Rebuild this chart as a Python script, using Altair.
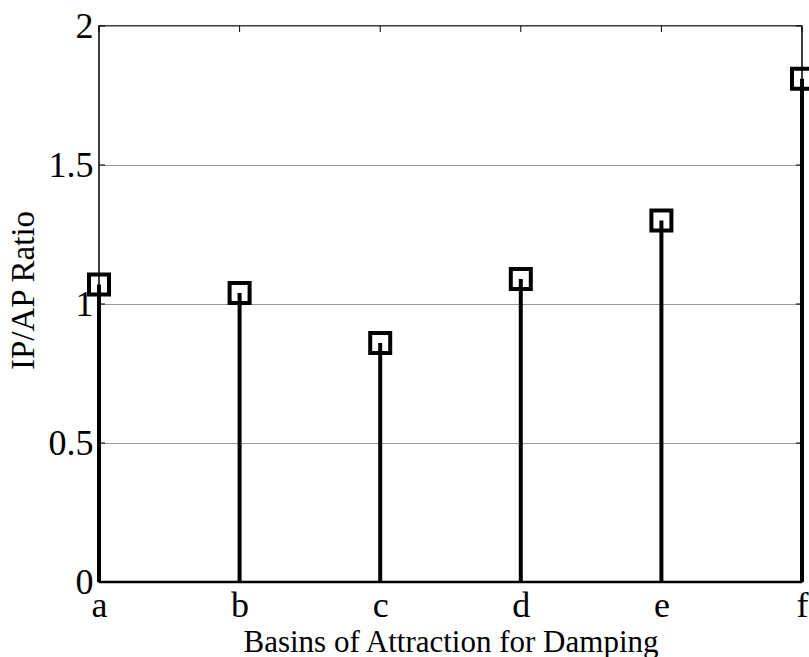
import altair as alt
import pandas as pd

cats = ["a", "b", "c", "d", "e", "f"]
ratio = [1.07, 1.04, 0.86, 1.09, 1.30, 1.81]
yticks = [0, 0.5, 1, 1.5, 2]

df = pd.DataFrame({"cat": cats, "val": ratio})
dt = pd.DataFrame({"t": yticks})

W, H = 703, 556
FONT = "Liberation Serif"

xscale = alt.Scale(type="point", padding=0, domain=cats)
yscale = alt.Scale(domain=[0, 2], nice=False, zero=True)

xaxis = alt.Axis(
    title="Basins of Attraction for Damping", labelAngle=0, ticks=False, domain=False,
    grid=False, labelFont=FONT, labelFontSize=36, labelColor="black", labelPadding=6,
    titleFont=FONT, titleFontSize=31, titleFontWeight="normal", titleColor="black",
    titleX=W / 2, titleY=69, titleBaseline="alphabetic", titleAlign="center",
)
yaxis = alt.Axis(
    title="IP/AP Ratio", values=yticks, format="~g", ticks=False, domain=False, grid=True,
    gridColor="#999999", gridWidth=1, labelFont=FONT, labelFontSize=36,
    labelColor="black", labelPadding=6, labelBaseline="middle",
    titleFont=FONT, titleFontSize=33, titleFontWeight="normal", titleColor="black",
    titleX=-76, titleY=264, titleAngle=-90, titleAlign="center", titleBaseline="middle",
)

base = alt.Chart(df)

stems = base.mark_rule(color="black", strokeWidth=4, strokeCap="butt").encode(
    x=alt.X("cat:N", scale=xscale, axis=xaxis, sort=cats),
    y=alt.Y("val:Q", scale=yscale, axis=yaxis),
    y2=alt.Y2(datum=0),
)

markers = base.mark_point(shape="square", filled=False, size=400, strokeWidth=4,
                          color="black", clip=False, opacity=1).encode(
    x=alt.X("cat:N", scale=xscale, sort=cats),
    y=alt.Y("val:Q", scale=yscale),
)

baseline = alt.Chart(pd.DataFrame({"z": [0]})).mark_rule(color="black", strokeWidth=2.5).encode(
    x=alt.X(datum="a", scale=xscale),
    x2=alt.X2(datum="f"),
    y=alt.Y("z:Q", scale=yscale),
)

top_ticks = base.mark_rule(color="black", strokeWidth=1).encode(
    x=alt.X("cat:N", scale=xscale, sort=cats),
    y=alt.value(0), y2=alt.value(6),
)
left_ticks = alt.Chart(dt).mark_rule(color="black", strokeWidth=1).encode(
    y=alt.Y("t:Q", scale=yscale), x=alt.value(0), x2=alt.value(6),
)
right_ticks = alt.Chart(dt).mark_rule(color="black", strokeWidth=1).encode(
    y=alt.Y("t:Q", scale=yscale), x=alt.value(W), x2=alt.value(W - 6),
)

chart = alt.layer(stems, baseline, top_ticks, left_ticks, right_ticks, markers).properties(
    width=W, height=H,
    autosize=alt.AutoSizeParams(type="none"),
    padding={"left": 99, "top": 26, "right": 809 - 99 - W, "bottom": 657 - 26 - H},
    background="white",
).configure_view(stroke="black", strokeWidth=1.5)

chart.save("out.html", embed_options={"renderer": "svg", "actions": False})
